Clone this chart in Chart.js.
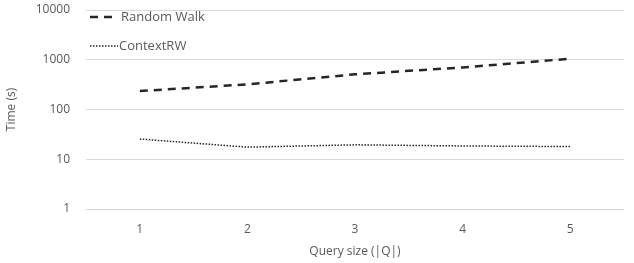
<!DOCTYPE html>
<html>
<head>
<meta charset="utf-8">
<script src="https://cdn.jsdelivr.net/npm/chart.js@4"></script>
<style>
  html, body { margin: 0; padding: 0; background: #fff; }
  #wrap { width: 634px; height: 263px; position: relative; }
</style>
</head>
<body>
<div id="wrap"><canvas id="chart" width="634" height="263"></canvas></div>
<script>
// data
const querySizes = ['1', '2', '3', '4', '5'];
const randomWalk = [235, 320, 510, 700, 1050];
const contextRW = [25.5, 17.5, 19.5, 18.5, 18];
const yTicks = [1, 10, 100, 1000, 10000];

const font = "'Open Sans', 'Liberation Sans', sans-serif";
const textColor = '#595959';

// legend drawn inside the plot, top-left
const insideLegend = {
  id: 'insideLegend',
  afterDraw(chart) {
    const ctx = chart.ctx;
    const items = [
      { label: 'Random Walk', dash: [8, 6], width: 2.5, y: 17, x0: 90, x1: 113, tx: 121 },
      { label: 'ContextRW', dash: [1.5, 1.5], width: 1.5, y: 46, x0: 90, x1: 118, tx: 119 }
    ];
    ctx.save();
    items.forEach(it => {
      ctx.strokeStyle = '#262626';
      ctx.lineWidth = it.width;
      ctx.setLineDash(it.dash);
      ctx.beginPath();
      ctx.moveTo(it.x0, it.y);
      ctx.lineTo(it.x1, it.y);
      ctx.stroke();
      ctx.setLineDash([]);
      ctx.fillStyle = textColor;
      ctx.font = '13px ' + font;
      ctx.textBaseline = 'middle';
      ctx.fillText(it.label, it.tx, it.y);
    });
    ctx.restore();
  }
};

new Chart(document.getElementById('chart'), {
  type: 'line',
  data: {
    labels: querySizes,
    datasets: [
      {
        label: 'Random Walk',
        data: randomWalk,
        borderColor: '#262626',
        borderWidth: 2.5,
        borderDash: [8, 6],
        pointRadius: 0,
        tension: 0
      },
      {
        label: 'ContextRW',
        data: contextRW,
        borderColor: '#262626',
        borderWidth: 1.5,
        borderDash: [1.5, 1.5],
        pointRadius: 0,
        tension: 0
      }
    ]
  },
  options: {
    responsive: false,
    animation: false,
    layout: { padding: { top: 0, right: 10, left: 0, bottom: 0 } },
    plugins: {
      legend: { display: false },
      tooltip: { enabled: false }
    },
    scales: {
      x: {
        offset: true,
        grid: { display: false, drawTicks: false },
        border: { display: false },
        ticks: { color: textColor, font: { family: font, size: 12 }, padding: 13 },
        title: {
          display: true,
          text: 'Query size (|Q|)',
          color: textColor,
          font: { family: font, size: 12 },
          padding: { top: 4 }
        },
        afterFit(scale) { scale.height = 54; }
      },
      y: {
        type: 'logarithmic',
        min: 1,
        max: 10000,
        afterBuildTicks(scale) {
          scale.ticks = yTicks.map(v => ({ value: v }));
        },
        grid: { color: '#d9d9d9', lineWidth: 1, drawTicks: false },
        border: { display: false },
        ticks: {
          color: textColor,
          font: { family: font, size: 12 },
          padding: 16,
          callback: v => String(v)
        },
        title: {
          display: true,
          text: 'Time (s)',
          color: textColor,
          font: { family: font, size: 12 },
          padding: { bottom: 2 }
        },
        afterFit(scale) {
          scale.width = 86;
          // keep the plot top at 10px (tick padding would push it down)
          scale.paddingTop = 10;
          scale.paddingBottom = 0;
        }
      }
    }
  },
  plugins: [insideLegend]
});
</script>
</body>
</html>
